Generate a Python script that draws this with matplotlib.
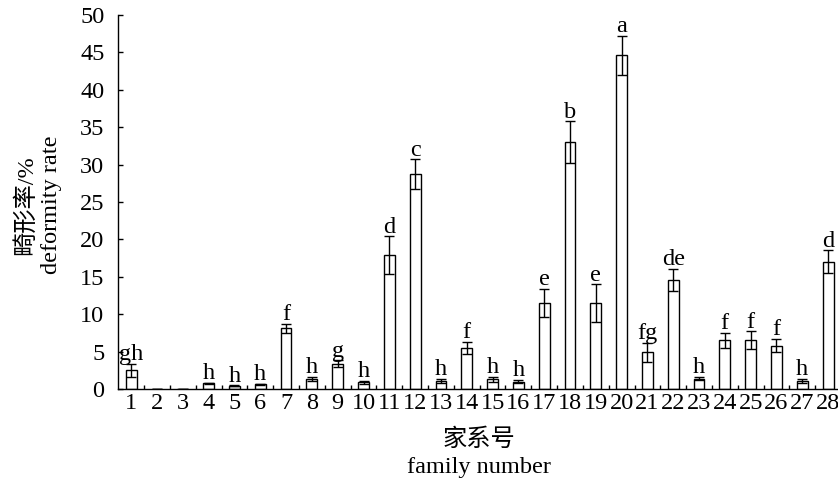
import numpy as np
import matplotlib
matplotlib.use('Agg')
import matplotlib.pyplot as plt
from matplotlib.ticker import FixedLocator

plt.rcParams['font.family'] = ['Liberation Serif', 'Noto Sans CJK SC']
FS = 17.5

# Data
families = list(range(1, 29))
rate = [2.5, 0.05, 0.05, 0.75, 0.45, 0.65, 8.1, 1.35, 3.4, 0.9,
        17.9, 28.7, 1.1, 5.5, 1.3, 1.0, 11.5, 33.0, 11.5, 44.6,
        4.9, 14.6, 1.4, 6.5, 6.5, 5.8, 1.1, 17.0]
err = [0.9, 0.0, 0.0, 0.05, 0.05, 0.05, 0.6, 0.3, 0.45, 0.2,
       2.5, 2.0, 0.25, 0.8, 0.3, 0.2, 1.9, 2.8, 2.5, 2.6,
       1.3, 1.5, 0.2, 1.0, 1.2, 0.9, 0.25, 1.55]
letters = ['gh', '', '', 'h', 'h', 'h', 'f', 'h', 'g', 'h',
           'd', 'c', 'h', 'f', 'h', 'h', 'e', 'b', 'e', 'a',
           'fg', 'de', 'h', 'f', 'f', 'f', 'h', 'd']

fig = plt.figure(figsize=(8.38, 4.82), dpi=100)
ax = fig.add_axes([118.3 / 838, 93 / 482, 722.7 / 838, 374 / 482])

x = np.array(families)
ax.bar(x, rate, width=0.42, color='white', edgecolor='black', linewidth=1.0)
ax.errorbar(x, rate, yerr=err, fmt='none', ecolor='black',
            elinewidth=1.0, capsize=3.8, capthick=1.0)

for xi, v, e, lab in zip(x, rate, err, letters):
    if lab:
        ax.annotate(lab, (xi, v + e), xytext=(0, -1), textcoords='offset points',
                    ha='center', va='bottom', fontsize=FS)

ax.set_xlim(0.5, 28.5)
ax.set_ylim(0, 50)
ax.set_yticks(np.arange(0, 51, 5))
ax.set_xticks(x)
ax.set_xticklabels([str(f) for f in families])
ax.xaxis.set_minor_locator(FixedLocator(np.arange(1.5, 28, 1.0)))

ax.tick_params(axis='x', which='major', length=0, pad=3, labelsize=FS)
ax.tick_params(axis='x', which='minor', direction='in', length=3, width=1.0)
ax.tick_params(axis='y', direction='in', length=3.5, width=1.0, pad=10, labelsize=FS)

for side in ['top', 'right']:
    ax.spines[side].set_visible(False)
for side in ['left', 'bottom']:
    ax.spines[side].set_linewidth(1.0)

fig.text(479 / 838, 1 - 440 / 482, '家系号', ha='center', va='center', fontsize=FS)
fig.text(479 / 838, 1 - 467 / 482, 'family number', ha='center', va='center', fontsize=FS)
fig.text(38 / 838, 1 - 205 / 482, '畸形率/%\ndeformity rate', ha='center', va='center',
         rotation=90, fontsize=FS, linespacing=1.25)

fig.savefig('out.png', dpi=100)
